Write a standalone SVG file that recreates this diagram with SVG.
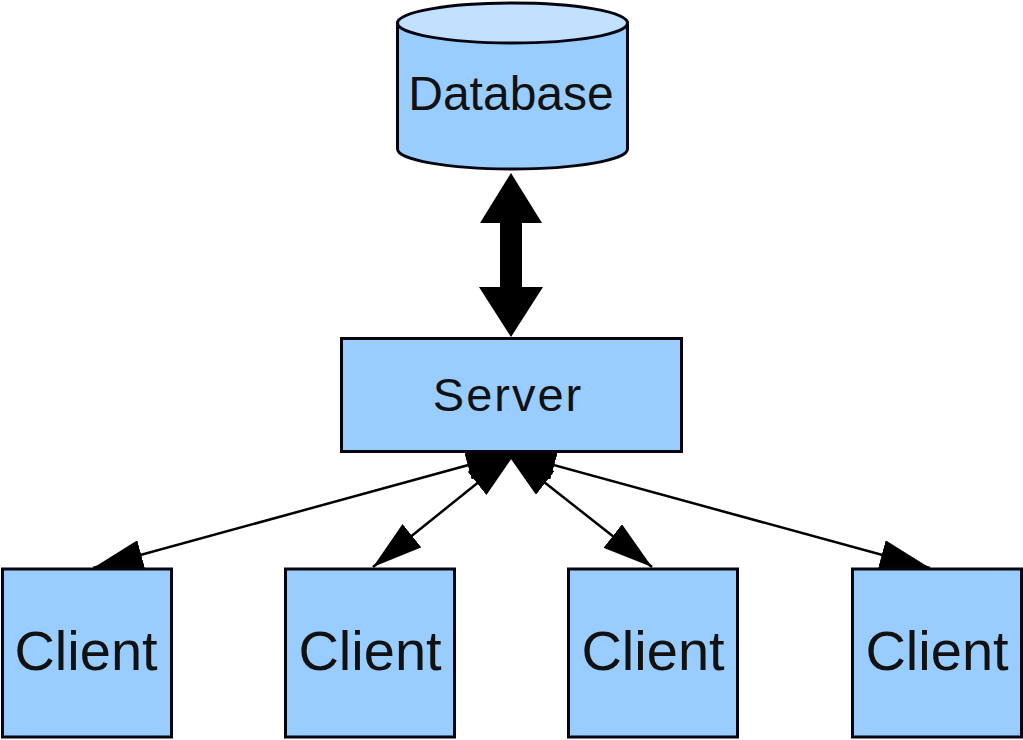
<svg xmlns="http://www.w3.org/2000/svg" width="1023" height="740" viewBox="0 0 1023 740">
<style>
.box{fill:#99CCFF;stroke:#050510;stroke-width:3}
.top{fill:#C2E0FF;stroke:#050510;stroke-width:3}
.lbl{font-family:"Liberation Sans",Arial,sans-serif;fill:#111;text-anchor:middle}
.conn{stroke:#000;stroke-width:2.5;fill:none;marker-start:url(#ah);marker-end:url(#ah)}
</style>
<defs>
<marker id="ah" markerUnits="userSpaceOnUse" viewBox="0 -15 50 30" refX="50" refY="0" markerWidth="50" markerHeight="30" orient="auto-start-reverse">
<path d="M0,-15 L50,0 L0,15 z" fill="#000"/>
</marker>
</defs>
<rect width="1023" height="740" fill="#fff"/>
<g id="connectors">
<polygon points="511,173 542,223 522,223 522,287 543,287 511,337 479,287 500,287 500,223 480,223" fill="#000"/>
<line class="conn" x1="516" y1="452" x2="93" y2="568"/>
<line class="conn" x1="516" y1="452" x2="373" y2="567"/>
<line class="conn" x1="506" y1="452" x2="652" y2="567"/>
<line class="conn" x1="506" y1="452" x2="930" y2="568"/>
</g>
<g id="database">
<path class="box" d="M397.5,23 L397.5,149 A115,20 0 0 0 627.5,149 L627.5,23 Z"/>
<ellipse class="top" cx="512.5" cy="23" rx="115" ry="20"/>
<text class="lbl" x="511" y="110" font-size="48">Database</text>
</g>
<g id="server">
<rect class="box" x="341.5" y="338.5" width="340" height="113"/>
<text class="lbl" x="508" y="411" font-size="47" letter-spacing="2">Server</text>
</g>
<g id="client1">
<rect class="box" x="2.5" y="569" width="169" height="168"/>
<text class="lbl" x="86" y="670" font-size="56">Client</text>
</g>
<g id="client2">
<rect class="box" x="285.5" y="569" width="169" height="168"/>
<text class="lbl" x="370" y="670" font-size="56">Client</text>
</g>
<g id="client3">
<rect class="box" x="568.5" y="569" width="169" height="168"/>
<text class="lbl" x="653" y="670" font-size="56">Client</text>
</g>
<g id="client4">
<rect class="box" x="852.5" y="569" width="169" height="168"/>
<text class="lbl" x="937" y="670" font-size="56">Client</text>
</g>
</svg>
